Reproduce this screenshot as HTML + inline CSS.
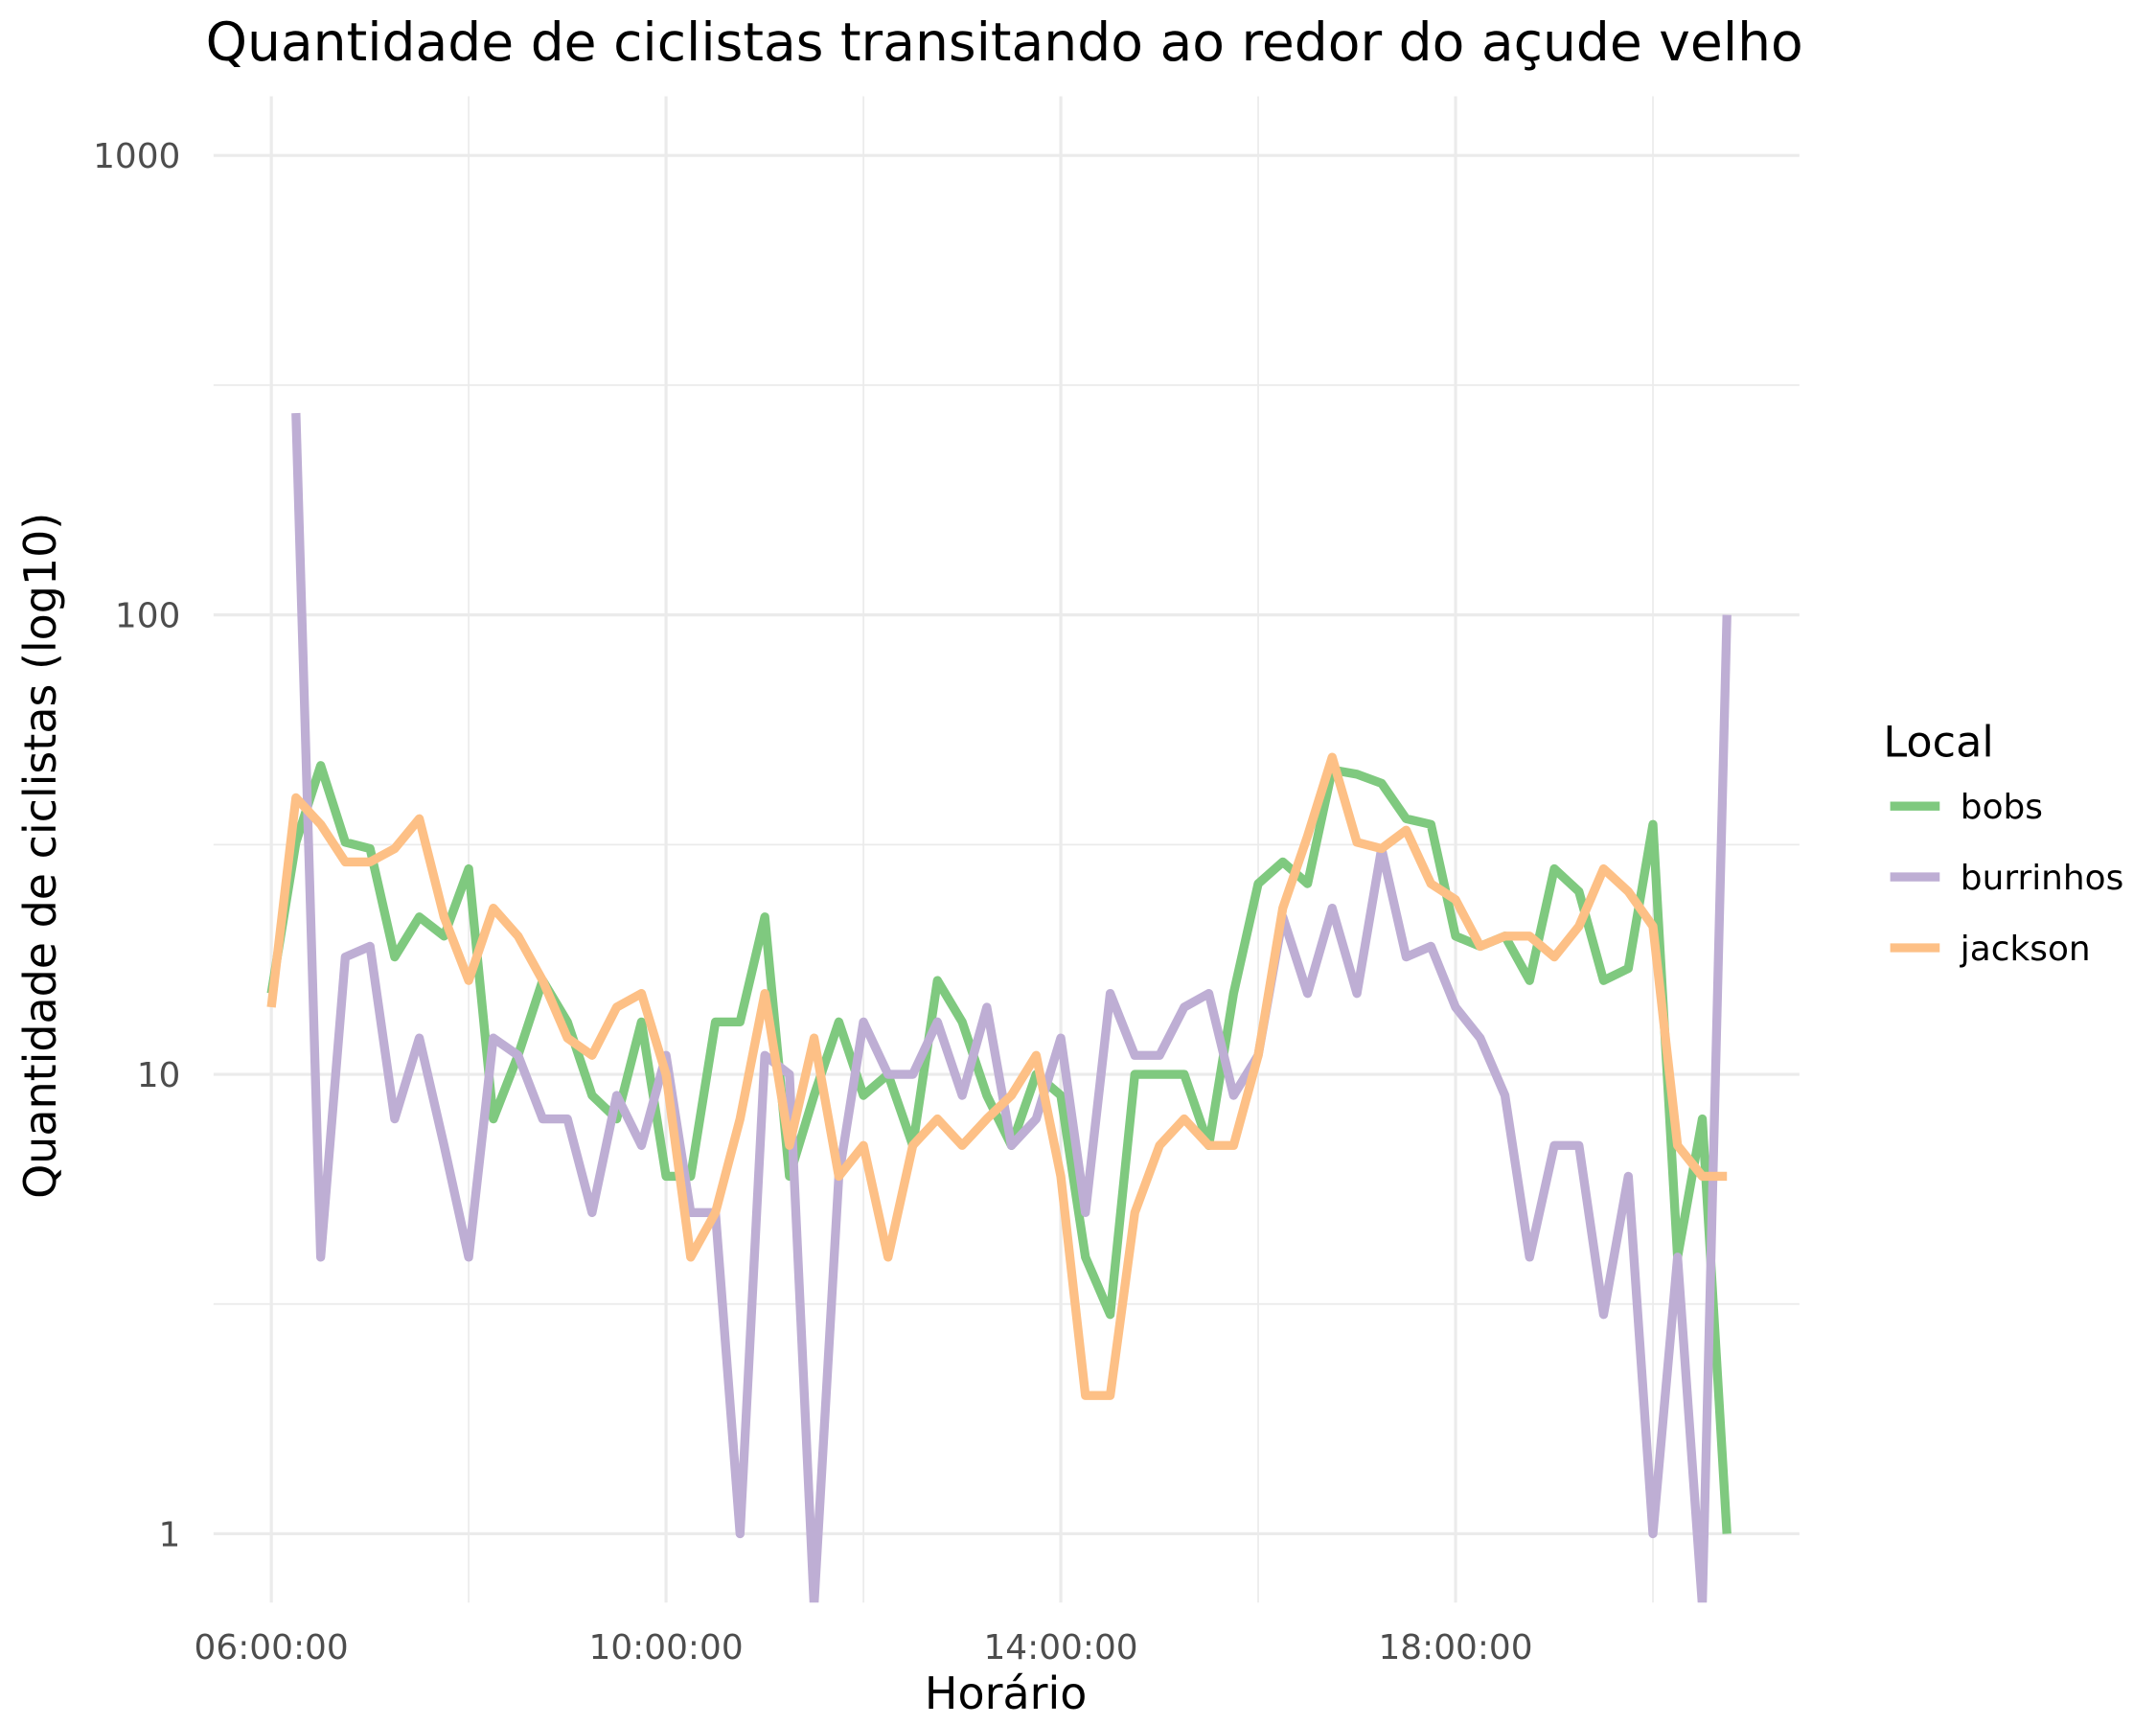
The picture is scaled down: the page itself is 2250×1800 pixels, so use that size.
<!DOCTYPE html>
<html><head><meta charset="utf-8"><style>
html,body{margin:0;padding:0;background:#fff}
svg{display:block}
text{font-family:"DejaVu Sans","Liberation Sans",sans-serif}
</style></head><body>
<svg id="chart" width="2250" height="1800" viewBox="0 0 1567 1254" xmlns="http://www.w3.org/2000/svg">
<rect width="1567" height="1254" fill="#fff"/>
<g id="grid"></g>
<g id="series"></g>
<g id="axes"></g>
<text x="730" y="44" font-size="38.4" text-anchor="middle" fill="#000">Quantidade de ciclistas transitando ao redor do açude velho</text>
<text x="731" y="1242" font-size="32" text-anchor="middle" fill="#000">Horário</text>
<text x="0" y="0" font-size="32" text-anchor="middle" fill="#000" transform="translate(40,622) rotate(-90)">Quantidade de ciclistas (log10)</text>
<g id="legend">
<text x="1369" y="550" font-size="31" fill="#000">Local</text>
</g>
</svg>
<script>
const categories = ["06:00","06:15","06:30","06:45","07:00","07:15","07:30","07:45","08:00","08:15","08:30","08:45","09:00","09:15","09:30","09:45","10:00","10:15","10:30","10:45","11:00","11:15","11:30","11:45","12:00","12:15","12:30","12:45","13:00","13:15","13:30","13:45","14:00","14:15","14:30","14:45","15:00","15:15","15:30","15:45","16:00","16:15","16:30","16:45","17:00","17:15","17:30","17:45","18:00","18:15","18:30","18:45","19:00","19:15","19:30","19:45","20:00","20:15","20:30","20:45"];
const bobs = [15,32,47,32,31,18,22,20,28,8,11,16,13,9,8,13,6,6,13,13,22,6,9,13,9,10,7,16,13,9,7,10,9,4,3,10,10,10,7,15,26,29,26,46,45,43,36,35,20,19,20,16,28,25,16,17,35,4,8,1];
const burrinhos = [null,275,4,18,19,8,12,7,4,12,11,8,8,5,9,7,11,5,5,1,11,10,0.7,6,13,10,10,13,9,14,7,8,12,5,15,11,11,14,15,9,11,22,15,23,15,31,18,19,14,12,9,4,7,7,3,6,1,4,0.7,100];
const jackson = [14,40,35,29,29,31,36,22,16,23,20,16,12,11,14,15,10,4,5,8,15,7,12,6,7,4,7,8,7,8,9,11,6,2,2,5,7,8,7,7,11,23,33,49,32,31,34,26,24,19,20,20,18,21,28,25,21,7,6,6];
const seriesNames = ["bobs","burrinhos","jackson"];
const seriesColors = ["#7fc97f","#beaed4","#fdc086"];
const yTicks = [1,10,100,1000];
const yTickLabels = ["1","10","100","1000"];
const xTickHours = [6,10,14,18];
const xTickLabels = ["06:00:00","10:00:00","14:00:00","18:00:00"];

const NS="http://www.w3.org/2000/svg";
const PL=155,PR=1308,PT=70,PB=1165;
function xScale(i){return 197+i*(287/16);}
function xHour(h){return 197+(h-6)*(287/4);}
function yScale(v){return 1115-Math.log10(v)*334;}
function el(tag,attrs,parent){const e=document.createElementNS(NS,tag);for(const k in attrs)e.setAttribute(k,attrs[k]);parent.appendChild(e);return e;}

const grid=document.getElementById('grid');
for(let i=0;i<yTicks.length-1;i++){
  const y=(yScale(yTicks[i])+yScale(yTicks[i+1]))/2;
  const l=el('line',{x1:PL,x2:PR,y1:y,y2:y,stroke:'#ebebeb','stroke-width':1.2},grid);
  
  
}
for(let i=0;i<xTickHours.length;i++){
  const x=xHour(xTickHours[i]+2);
  const l=el('line',{x1:x,x2:x,y1:PT,y2:PB,stroke:'#ebebeb','stroke-width':1.2},grid);
  
  
}
const axes=document.getElementById('axes');
yTicks.forEach((t,i)=>{
  const y=yScale(t);
  const l=el('line',{x1:PL,x2:PR,y1:y,y2:y,stroke:'#ebebeb','stroke-width':2.2},grid);
  
  
  const tx=el('text',{x:131,y:y+9,'font-size':25,'text-anchor':'end',fill:'#4d4d4d'},axes);
  tx.textContent=yTickLabels[i];
  
  
});
xTickHours.forEach((h,i)=>{
  const x=xHour(h);
  const l=el('line',{x1:x,x2:x,y1:PT,y2:PB,stroke:'#ebebeb','stroke-width':2.2},grid);
  
  
  const tx=el('text',{x:x,y:1206,'font-size':25,'text-anchor':'middle',fill:'#4d4d4d'},axes);
  tx.textContent=xTickLabels[i];
  
  
});

const defs=el('defs',{},document.getElementById('chart'));
const cp=el('clipPath',{id:'clip'},defs);
el('rect',{x:PL,y:PT,width:PR-PL,height:PB-PT},cp);

const sg=document.getElementById('series');
const allData=[bobs,burrinhos,jackson];
allData.forEach((data,s)=>{
  let d='';let pen=false;
  data.forEach((v,i)=>{
    if(v==null){pen=false;return;}
    d+=(pen?'L':'M')+xScale(i).toFixed(1)+' '+yScale(v).toFixed(1)+' ';
    pen=true;
  });
  const p=el('path',{d:d,fill:'none',stroke:seriesColors[s],'stroke-width':6.5,'stroke-linejoin':'round','clip-path':'url(#clip)'},sg);
  
  
});

const lg=document.getElementById('legend');
seriesNames.forEach((n,i)=>{
  const y=586+i*51.5;
  const g=el('g',{},lg);
  
  
  el('line',{x1:1374,x2:1410,y1:y,y2:y,stroke:seriesColors[i],'stroke-width':6.5},g);
  const t=el('text',{x:1425,y:y+9,'font-size':25,fill:'#000'},g);
  t.textContent=n;
});
</script>
</body></html>
